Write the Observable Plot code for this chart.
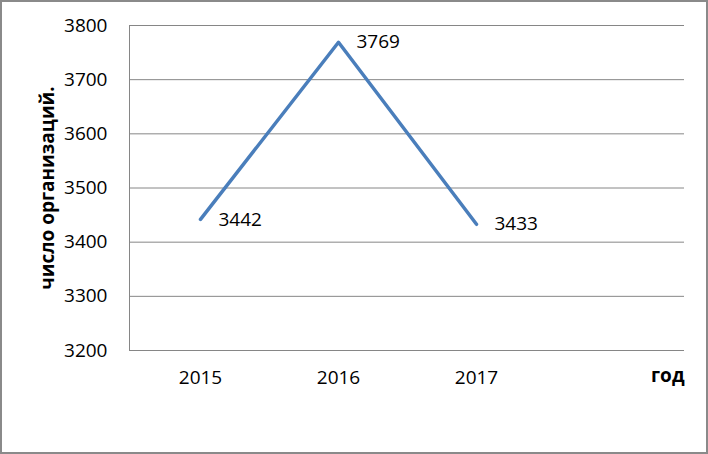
<!DOCTYPE html>
<html>
<head>
<meta charset="utf-8">
<script src="https://cdn.jsdelivr.net/npm/d3@7"></script>
<script src="https://cdn.jsdelivr.net/npm/@observablehq/plot@0.6"></script>
<style>
  html, body { margin: 0; padding: 0; background: #fff; }
  #chart svg { display: block; outline: 2px solid #8a8a8a; outline-offset: -2px; }
</style>
</head>
<body>
<div id="chart"></div>
<script>
const years = ["2015", "2016", "2017"];
const counts = [3442, 3769, 3433];
const yTicks = [3200, 3300, 3400, 3500, 3600, 3700, 3800];
const yLabel = "число организаций.";
const xLabel = "год";

const data = years.map((y, i) => ({year: y, value: counts[i]}));
const font = "'Open Sans', sans-serif";

const chart = Plot.plot({
  width: 708,
  height: 454,
  marginLeft: 129,
  marginRight: 24,
  marginTop: 25,
  marginBottom: 104,
  style: {fontFamily: font, fontSize: "19px", color: "#000", background: "#fff"},
  x: {type: "point", domain: [...years, ""], padding: 0.5, label: null},
  y: {domain: [3200, 3800], label: null},
  marks: [
    Plot.gridY(yTicks, {stroke: "#868686", strokeOpacity: 1, strokeWidth: 1}),
    Plot.frame({anchor: "left", stroke: "#868686", strokeWidth: 1}),
    Plot.axisY(yTicks, {tickSize: 0, tickPadding: 22, fontSize: 19, label: null, tickFormat: d => String(d)}),
    Plot.axisX({tickSize: 0, tickPadding: 20, fontSize: 19, label: null}),
    Plot.line(data, {x: "year", y: "value", stroke: "#4a7ebb", strokeWidth: 3.5}),
    Plot.text(data, {x: "year", y: "value", text: d => String(d.value), textAnchor: "start", dx: 18, fontSize: 19, fill: "#000"}),
    Plot.text([yLabel], {frameAnchor: "left", textAnchor: "middle", rotate: -90, dx: -82, fontWeight: "bold", fontSize: 19, fill: "#000"}),
    Plot.text([xLabel], {frameAnchor: "bottom-right", textAnchor: "end", dy: 31, fontWeight: "bold", fontSize: 19, fill: "#000"})
  ]
});
document.getElementById("chart").appendChild(chart);
</script>
</body>
</html>
